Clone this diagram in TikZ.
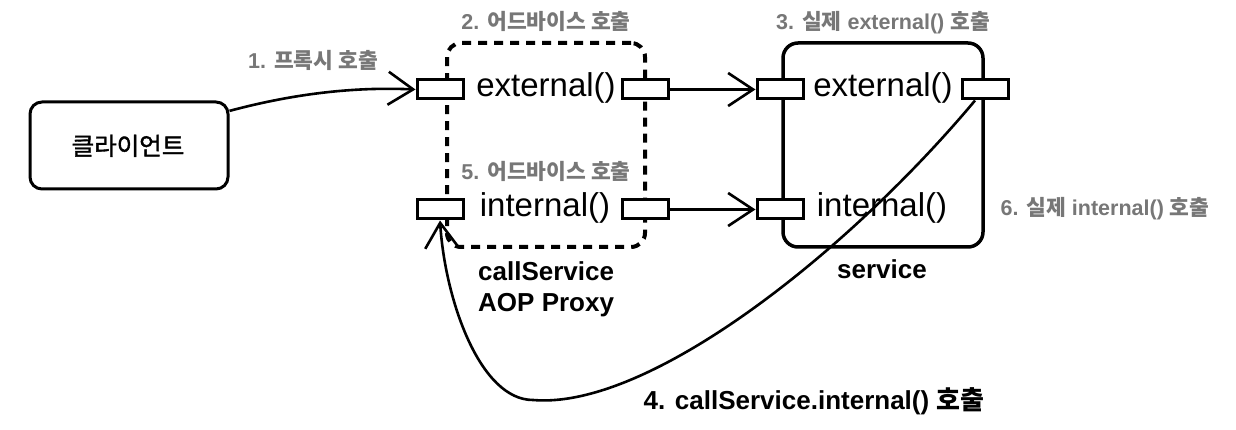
\documentclass[tikz,border=0pt]{standalone}
\usepackage{fontspec}
\setmainfont{Liberation Sans}
\newfontfamily\kr{Noto Sans CJK KR}
\newfontface\krm[FakeBold=1.5]{Noto Sans CJK KR}
\usetikzlibrary{arrows.meta}
\definecolor{lblgray}{HTML}{777777}
\begin{document}
\begin{tikzpicture}[x=1pt,y=-1pt,
  box/.style={draw, line width=3pt, rounded corners=12pt, inner sep=0pt},
  port/.style={draw, line width=3pt, fill=white, minimum width=46pt, minimum height=19pt, inner sep=0pt},
  arr/.style={line width=2.6pt, -{Straight Barb[length=25pt,width=33pt]}},
  meth/.style={anchor=base, inner sep=0pt, font=\fontsize{33}{38}\selectfont},
  glab/.style={anchor=base, inner sep=0pt, text=lblgray, font=\fontsize{21.5}{26}\selectfont\bfseries},
  blab/.style={anchor=base, inner sep=0pt, font=\fontsize{26}{31}\selectfont\bfseries}]
\useasboundingbox[fill=white] (0,0) rectangle (1236,430);

% boxes
\node[box, minimum width=198pt, minimum height=87pt] (client) at (129,145.5) {};
\node[anchor=base, inner sep=0pt, font=\krm\fontsize{24.5}{29}\selectfont] (clienttxt) at (128,155) {클라이언트};
\node[box, dashed, dash pattern=on 9pt off 7pt, line width=4pt, rounded corners=14pt,
      minimum width=198pt, minimum height=204pt] (proxy) at (546,145) {};
\node[box, line width=3.5pt, rounded corners=15pt,
      minimum width=200pt, minimum height=204pt] (service) at (883,145) {};

% ports
\node[port] (pxel) at (440,89.5) {};
\node[port] (pxer) at (645,89.5) {};
\node[port] (pil) at (440,209.5) {};
\node[port] (pir) at (645,209.5) {};
\node[port] (sel) at (780,89.5) {};
\node[port] (ser) at (985,89.5) {};
\node[port] (sil) at (780,209.5) {};

% method texts
\node[meth] (pxet) at (546,97) {external()};
\node[meth] (pit) at (545,217) {internal()};
\node[meth] (set) at (883,97) {external()};
\node[meth] (sit) at (882,217) {internal()};

% labels
\node[glab] (l1) at (313,69) {1. {\kr 프록시 호출}};
\node[glab] (l2) at (546,30) {2. {\kr 어드바이스 호출}};
\node[glab] (l5) at (546,180) {5. {\kr 어드바이스 호출}};
\node[glab] (l3) at (883,30) {3. {\kr 실제} external() {\kr 호출}};
\node[glab] (l6) at (1105,216) {6. {\kr 실제} internal() {\kr 호출}};
\node[blab] (svc) at (882,279) {service};
\node[blab, anchor=north west, align=left, font=\fontsize{26}{31}\selectfont\bfseries] (cs) at (478,261) {callService\\AOP Proxy};
\node[blab] (l4) at (814,409) {4. callService.internal() {\kr 호출}};

% connectors
\draw[arr] (client.19) .. controls (300,92) and (360,87) .. (pxel.west);
\draw[arr] (pxer.east) -- (sel.west);
\draw[arr] (pir.east) -- (sil.west);
\draw[arr] ([xshift=-10pt]ser.south) .. controls (850,250) and (650,410) .. (533,400)
  .. controls (480,400) and (445,300) .. (pil.south);
\end{tikzpicture}
\end{document}
